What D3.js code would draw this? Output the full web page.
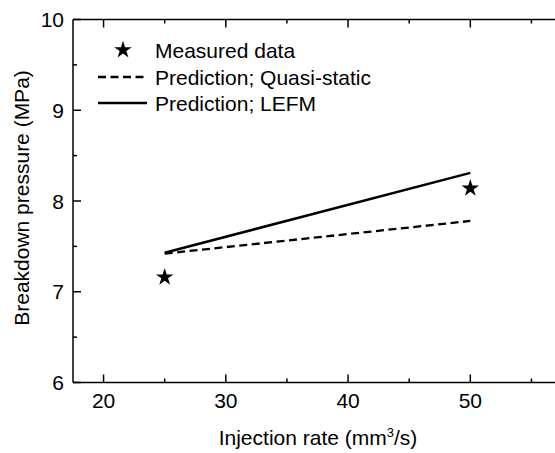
<!DOCTYPE html>
<html><head><meta charset="utf-8">
<script src="https://cdn.jsdelivr.net/npm/d3@7"></script>
<style>
body{margin:0;background:#fff}
svg{display:block;font-family:"Liberation Sans",Arial,sans-serif}
</style></head>
<body><svg id="c" width="555" height="453"></svg>
<script>
const xTicks = [20, 30, 40, 50];
const yTicks = [6, 7, 8, 9, 10];
const measuredX = [25, 50];
const measuredY = [7.16, 8.14];
const quasiX = [25, 50];
const quasiY = [7.42, 7.78];
const lefmX = [25, 50];
const lefmY = [7.43, 8.31];
const legendLabels = ["Measured data", "Prediction; Quasi-static", "Prediction; LEFM"];

const svg = d3.select("#c");
const L = 73, R = 562, T = 19.5, B = 382.5;
const x = d3.scaleLinear().domain([17.5, 57.5]).range([L, R]);
const y = d3.scaleLinear().domain([6, 10]).range([B, T]);
const FS = 21;
const SW = 1.5;

const g = svg.append("g");
g.append("line").attr("x1", L).attr("x2", 555).attr("y1", B).attr("y2", B).attr("stroke", "#000").attr("stroke-width", SW);
g.append("line").attr("x1", L).attr("x2", 555).attr("y1", T).attr("y2", T).attr("stroke", "#000").attr("stroke-width", SW);
g.append("line").attr("x1", L).attr("x2", L).attr("y1", T).attr("y2", B).attr("stroke", "#000").attr("stroke-width", SW);

const minorX = [25, 35, 45, 55];
const minorY = [6.5, 7.5, 8.5, 9.5];
xTicks.forEach(v => {
  g.append("line").attr("x1", x(v)).attr("x2", x(v)).attr("y1", B).attr("y2", B - 8).attr("stroke", "#000").attr("stroke-width", SW);
  g.append("line").attr("x1", x(v)).attr("x2", x(v)).attr("y1", T).attr("y2", T + 8).attr("stroke", "#000").attr("stroke-width", SW);
  g.append("text").attr("x", x(v)).attr("y", 408).attr("text-anchor", "middle").attr("font-size", FS).text(v);
});
minorX.forEach(v => {
  g.append("line").attr("x1", x(v)).attr("x2", x(v)).attr("y1", B).attr("y2", B - 4).attr("stroke", "#000").attr("stroke-width", SW);
  g.append("line").attr("x1", x(v)).attr("x2", x(v)).attr("y1", T).attr("y2", T + 4).attr("stroke", "#000").attr("stroke-width", SW);
});
yTicks.forEach(v => {
  g.append("line").attr("x1", L).attr("x2", L + 8).attr("y1", y(v)).attr("y2", y(v)).attr("stroke", "#000").attr("stroke-width", SW);
  g.append("text").attr("x", 64).attr("y", y(v) + 7.5).attr("text-anchor", "end").attr("font-size", FS).text(v);
});
minorY.forEach(v => {
  g.append("line").attr("x1", L).attr("x2", L + 4).attr("y1", y(v)).attr("y2", y(v)).attr("stroke", "#000").attr("stroke-width", SW);
});

const xt = g.append("text").attr("x", 318).attr("y", 445).attr("text-anchor", "middle").attr("font-size", FS);
xt.append("tspan").text("Injection rate (mm");
xt.append("tspan").attr("font-size", 13).attr("dy", -8).text("3");
xt.append("tspan").attr("dy", 8).text("/s)");
g.append("text").attr("transform", `translate(29,198) rotate(-90)`).attr("text-anchor", "middle").attr("font-size", FS).text("Breakdown pressure (MPa)");

const line = d3.line().x(d => x(d[0])).y(d => y(d[1]));
g.append("path").datum(quasiX.map((v, i) => [v, quasiY[i]])).attr("d", line).attr("fill", "none").attr("stroke", "#000").attr("stroke-width", 2.3).attr("stroke-dasharray", "8,4.5");
g.append("path").datum(lefmX.map((v, i) => [v, lefmY[i]])).attr("d", line).attr("fill", "none").attr("stroke", "#000").attr("stroke-width", 2.5);

const star = d3.symbol().type(d3.symbolStar).size(95);
measuredX.forEach((v, i) => {
  g.append("path").attr("d", star()).attr("transform", `translate(${x(v)},${y(measuredY[i])})`).attr("fill", "#000");
});

const ly = [50, 77, 103];
g.append("path").attr("d", star()).attr("transform", `translate(123,${ly[0]})`).attr("fill", "#000");
g.append("line").attr("x1", 98).attr("x2", 144).attr("y1", ly[1]).attr("y2", ly[1]).attr("stroke", "#000").attr("stroke-width", 2.3).attr("stroke-dasharray", "8,4.5");
g.append("line").attr("x1", 98).attr("x2", 147).attr("y1", ly[2]).attr("y2", ly[2]).attr("stroke", "#000").attr("stroke-width", 2.5);
legendLabels.forEach((t, i) => {
  g.append("text").attr("x", 155).attr("y", ly[i] + 7.5).attr("font-size", FS).text(t);
});
</script></body></html>
